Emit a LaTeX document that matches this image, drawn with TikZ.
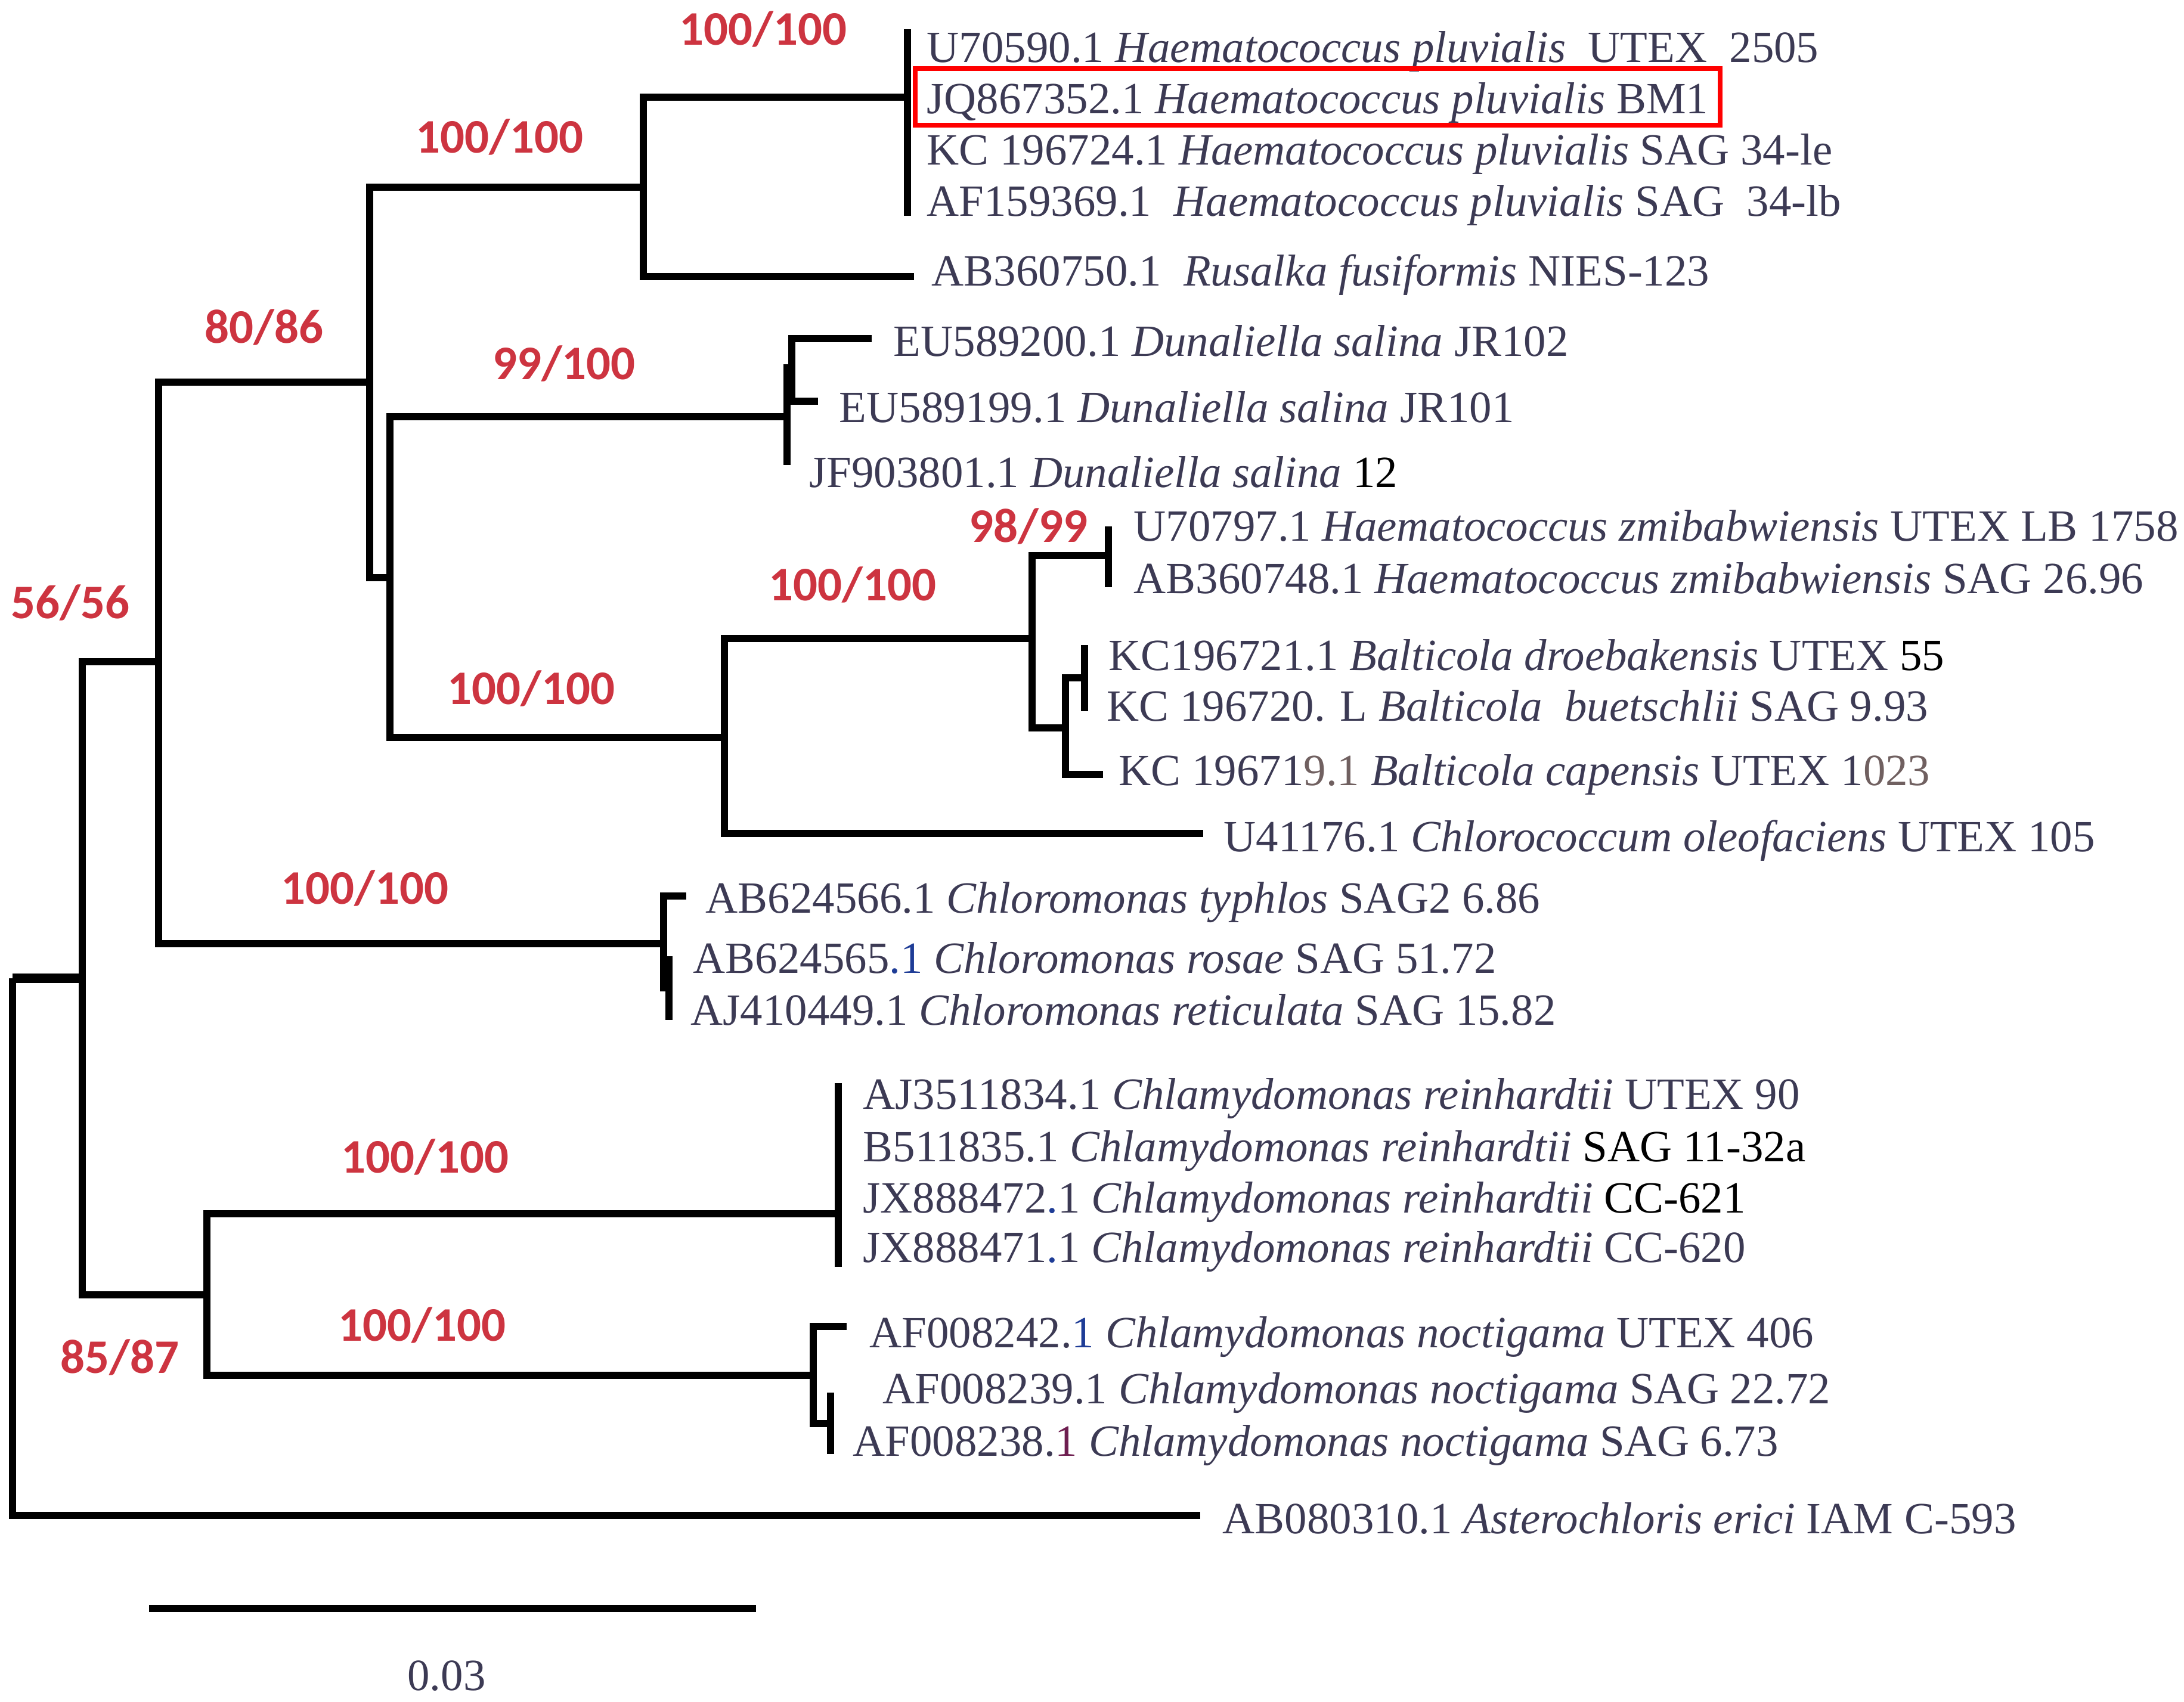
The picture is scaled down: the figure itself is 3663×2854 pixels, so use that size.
\documentclass[tikz,border=0pt]{standalone}
\usepackage{fontspec}
\setmainfont{Liberation Serif}
\newfontfamily\bootfont{Carlito}
\usepackage{tikz}
\usetikzlibrary{calc}
\definecolor{bootred}{RGB}{205, 52, 64}
\definecolor{tipgray}{RGB}{60, 58, 84}
\definecolor{dotblue}{RGB}{30, 60, 150}
\definecolor{dotplum}{RGB}{110, 30, 80}
\definecolor{dotbrown}{RGB}{112, 96, 96}

\begin{document}
\begin{tikzpicture}[
  x=0.01cm, y=-0.01cm,
  branch/.style={line width=3.4pt},
  rootbranch/.style={line width=4.8pt},
  boot/.style={text=bootred, inner sep=0pt, font=\bootfont\bfseries\fontsize{23}{27}\selectfont},
  tip/.style={anchor=base west, text=tipgray, inner sep=0pt, font=\fontsize{21.3}{25}\selectfont},
  hilite/.style={draw=red, line width=2.2pt}
]
  \useasboundingbox (0,0) rectangle (3663,2854);

  % internal nodes
  \coordinate (root) at (21, 1641);
  \coordinate (nA) at (138, 1641);
  \coordinate (nB) at (266, 1110);
  \coordinate (nC) at (620, 641);
  \coordinate (nHP) at (1079, 314);
  \coordinate (nPluv) at (1522, 163);
  \coordinate (nD) at (654, 969);
  \coordinate (nDun) at (1320, 699);
  \coordinate (nDunIn) at (1328, 617);
  \coordinate (nE) at (1215, 1237);
  \coordinate (nF) at (1731, 1071);
  \coordinate (nHz) at (1859, 932);
  \coordinate (nBal) at (1787, 1221);
  \coordinate (nBalIn) at (1819, 1137);
  \coordinate (nCm) at (1113, 1583);
  \coordinate (nCmIn) at (1122, 1657);
  \coordinate (nChl) at (347, 2172);
  \coordinate (nRein) at (1406, 2036);
  \coordinate (nNoct) at (1364, 2307);
  \coordinate (nNoctIn) at (1393, 2388);

  % tips
  \coordinate (tPluvA) at (1522, 49);
  \coordinate (tPluvD) at (1522, 362);
  \coordinate (tRus) at (1533, 464);
  \coordinate (tDunA) at (1462, 568);
  \coordinate (tDunB) at (1372, 673);
  \coordinate (tDunC) at (1320, 780);
  \coordinate (tHzA) at (1859, 883);
  \coordinate (tHzB) at (1859, 985);
  \coordinate (tBalA) at (1819, 1082);
  \coordinate (tBalB) at (1819, 1193);
  \coordinate (tBalC) at (1850, 1299);
  \coordinate (tClc) at (2018, 1398);
  \coordinate (tCmA) at (1151, 1503);
  \coordinate (tCmB) at (1122, 1604);
  \coordinate (tCmC) at (1122, 1711);
  \coordinate (tReinA) at (1406, 1817);
  \coordinate (tReinD) at (1406, 2125);
  \coordinate (tNocA) at (1420, 2225);
  \coordinate (tNocB) at (1393, 2336);
  \coordinate (tNocC) at (1393, 2439);
  \coordinate (tAst) at (2013, 2542);

  % branches
  \draw[rootbranch] (root) -- (nA);
  \draw[branch] (root) |- (tAst);
  \draw[branch] (nA) |- (nB) (nA) |- (nChl);
  \draw[branch] (nB) |- (nC) (nB) |- (nCm);
  \draw[branch] (nC) |- (nHP) (nC) |- (nD);
  \draw[branch] (nHP) |- (nPluv) (nHP) |- (tRus);
  \draw[branch] (tPluvA) -- (tPluvD);
  \draw[branch] (nD) |- (nDun) (nD) |- (nE);
  \draw[branch] (nDun) |- (nDunIn) (nDun) -- (tDunC);
  \draw[branch] (nDunIn) |- (tDunA) (nDunIn) |- (tDunB);
  \draw[branch] (nE) |- (nF) (nE) |- (tClc);
  \draw[branch] (nF) |- (nHz) (nF) |- (nBal);
  \draw[branch] (tHzA) -- (tHzB);
  \draw[branch] (nBal) |- (nBalIn) (nBal) |- (tBalC);
  \draw[branch] (tBalA) -- (tBalB);
  \draw[branch] (nCm) |- (tCmA) (nCm) |- (nCmIn);
  \draw[branch] (tCmB) -- (tCmC);
  \draw[branch] (nChl) |- (nRein) (nChl) |- (nNoct);
  \draw[branch] (tReinA) -- (tReinD);
  \draw[branch] (nNoct) |- (tNocA) (nNoct) |- (nNoctIn);
  \draw[branch] (tNocB) -- (tNocC);

  % bootstrap values
  \node[boot] (bPluv) at (1280, 49) {100/100};
  \node[boot] (bHP) at (838, 230) {100/100};
  \node[boot] (bC) at (443, 549) {80/86};
  \node[boot] (bDun) at (946, 610) {99/100};
  \node[boot] (bB) at (118, 1011) {56/56};
  \node[boot] (bF) at (1430, 981) {100/100};
  \node[boot] (bHz) at (1725, 883) {98/99};
  \node[boot] (bE) at (891, 1155) {100/100};
  \node[boot] (bCm) at (612, 1490) {100/100};
  \node[boot] (bRein) at (713, 1941) {100/100};
  \node[boot] (bNoct) at (708, 2223) {100/100};
  \node[boot] (bChl) at (201, 2277) {85/87};

  % taxa
  \node[tip] (U70590) at (1554, 104) {U70590.1 \textit{Haematococcus pluvialis}\ \ UTEX\ \ 2505};
  \node[tip] (JQ867352) at (1554, 190) {JQ867352.1 \textit{Haematococcus pluvialis} BM1};
  \node[tip] (KC196724) at (1554, 276) {KC 196724.1 \textit{Haematococcus pluvialis} SAG 34-le};
  \node[tip] (AF159369) at (1554, 362) {AF159369.1\ \ \textit{Haematococcus pluvialis} SAG\ \ 34-lb};
  \node[tip] (AB360750) at (1562, 479) {AB360750.1\ \ \textit{Rusalka fusiformis} NIES-123};
  \node[tip] (EU589200) at (1498, 597) {EU589200.1 \textit{Dunaliella salina} JR102};
  \node[tip] (EU589199) at (1407, 708) {EU589199.1 \textit{Dunaliella salina} JR101};
  \node[tip] (JF903801) at (1357, 817) {JF903801.1 \textit{Dunaliella salina} {\color{black}12}};
  \node[tip] (U70797) at (1901, 907) {U70797.1 \textit{Haematococcus zmibabwiensis} UTEX LB 1758};
  \node[tip] (AB360748) at (1901, 995) {AB360748.1 \textit{Haematococcus zmibabwiensis} SAG 26.96};
  \node[tip] (KC196721) at (1859, 1124) {KC196721.1 \textit{Balticola droebakensis} UTEX {\color{black}55}};
  \node[tip] (KC196720) at (1856, 1209) {KC 196720. L \textit{Balticola\ \ buetschlii} SAG 9.93};
  \node[tip] (KC196719) at (1876, 1317) {KC 19671{\color{dotbrown}9.1} \textit{Balticola capensis} UTEX 1{\color{dotbrown}023}};
  \node[tip] (U41176) at (2052, 1428) {U41176.1 \textit{Chlorococcum oleofaciens} UTEX 105};
  \node[tip] (AB624566) at (1183, 1531) {AB624566.1 \textit{Chloromonas typhlos} SAG2 6.86};
  \node[tip] (AB624565) at (1162, 1632) {AB624565{\color{dotblue}.1} \textit{Chloromonas rosae} SAG 51.72};
  \node[tip] (AJ410449) at (1158, 1719) {AJ410449.1 \textit{Chloromonas reticulata} SAG 15.82};
  \node[tip] (AJ3511834) at (1447, 1860) {AJ3511834.1 \textit{Chlamydomonas reinhardtii} UTEX 90};
  \node[tip] (B511835) at (1447, 1948) {B511835.1 \textit{Chlamydomonas reinhardtii} {\color{black}SAG 11-32a}};
  \node[tip] (JX888472) at (1447, 2034) {JX888472{\color{dotblue}.}1 \textit{Chlamydomonas reinhardtii} {\color{black}CC-621}};
  \node[tip] (JX888471) at (1447, 2117) {JX888471{\color{dotblue}.}1 \textit{Chlamydomonas reinhardtii} CC-620};
  \node[tip] (AF008242) at (1458, 2260) {AF008242.{\color{dotblue}1} \textit{Chlamydomonas noctigama} UTEX 406};
  \node[tip] (AF008239) at (1480, 2354) {AF008239.1 \textit{Chlamydomonas noctigama} SAG 22.72};
  \node[tip] (AF008238) at (1430, 2442) {AF008238.{\color{dotplum}1} \textit{Chlamydomonas noctigama} SAG 6.73};
  \node[tip] (AB080310) at (2050, 2572) {AB080310.1 \textit{Asterochloris erici} IAM C-593};

  % highlight of the new strain
  \draw[hilite] ($(JQ867352.base west)+(-19,-75)$) rectangle ($(JQ867352.base east)+(19,20)$);

  % scale bar
  \coordinate (sbL) at (250, 2698);
  \coordinate (sbR) at (1268, 2698);
  \draw[branch] (sbL) -- (sbR);
  \node[text=tipgray, inner sep=0pt, font=\fontsize{21.3}{25}\selectfont] (sbLabel) at (749, 2811) {0.03};
\end{tikzpicture}
\end{document}
